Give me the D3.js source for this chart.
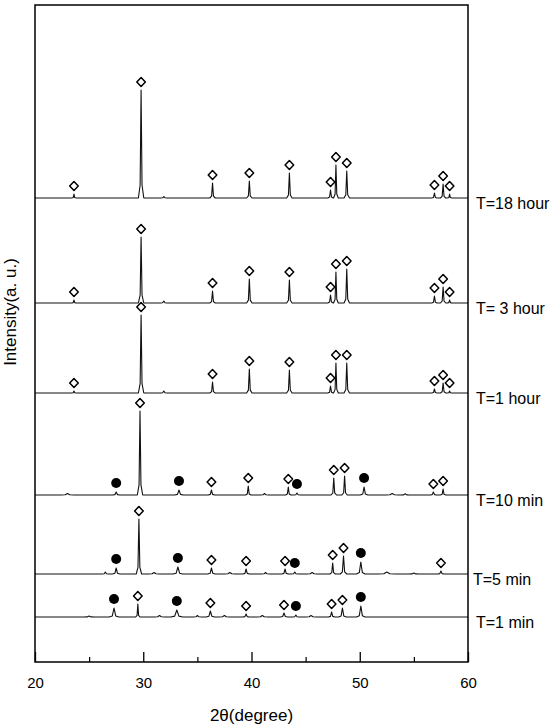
<!DOCTYPE html>
<html>
<head>
<meta charset="utf-8">
<script src="https://cdn.jsdelivr.net/npm/d3@7"></script>
<style>
  body { margin: 0; background: #fff; }
  text { font-family: "Liberation Sans", Arial, sans-serif; fill: #000; }
</style>
</head>
<body>
<div id="chart"></div>
<script>
// sample labels and baseline offsets (a.u.)
const labels = ["T=18 hour", "T= 3 hour", "T=1 hour", "T=10 min", "T=5 min", "T=1 min"];
const offsets = [464, 359, 269, 167, 88, 45];

// peaks: [2theta, height, half base width, marker]
// marker: "d" = open diamond, "c" = filled circle, "" = none
const peaks18h = [
  [23.6, 4, 0.2, "d"], [29.8, 108, 0.25, "d"], [36.4, 15, 0.25, "d"], [39.8, 17, 0.25, "d"],
  [43.5, 25, 0.25, "d"], [47.3, 8, 0.25, "d"], [47.8, 33, 0.22, "d"], [48.8, 27, 0.25, "d"],
  [56.9, 5, 0.25, "d"], [57.7, 14, 0.25, "d"], [58.3, 4, 0.2, "d"], [31.9, 1.5, 0.3, ""]
];
const peaks3h = [
  [23.6, 3, 0.2, "d"], [29.8, 66, 0.25, "d"], [36.4, 12, 0.25, "d"], [39.8, 24, 0.25, "d"],
  [43.5, 23, 0.25, "d"], [47.3, 8, 0.25, "d"], [47.8, 31, 0.22, "d"], [48.8, 34, 0.25, "d"],
  [56.9, 7, 0.25, "d"], [57.7, 16, 0.25, "d"], [58.3, 3, 0.2, "d"], [31.9, 2, 0.3, ""]
];
const peaks1h = [
  [23.6, 2, 0.2, "d"], [29.8, 78, 0.25, "d"], [36.4, 11, 0.25, "d"], [39.8, 24, 0.25, "d"],
  [43.5, 23, 0.25, "d"], [47.3, 7, 0.25, "d"], [47.8, 30, 0.22, "d"], [48.8, 30, 0.25, "d"],
  [56.9, 4, 0.25, "d"], [57.7, 10, 0.25, "d"], [58.3, 2, 0.2, "d"], [31.9, 2, 0.3, ""]
];
const peaks10m = [
  [27.5, 3, 0.35, "c"], [29.7, 84, 0.25, "d"], [33.3, 5, 0.4, "c"], [36.3, 5, 0.3, "d"],
  [39.7, 9, 0.25, "d"], [43.4, 8, 0.25, "d"], [44.2, 2, 0.3, "c"], [47.6, 17, 0.25, "d"],
  [48.6, 19, 0.25, "d"], [50.4, 8, 0.35, "c"], [56.8, 3, 0.3, "d"], [57.7, 6, 0.25, "d"],
  [23.0, 1.5, 0.6, ""], [41.2, 1.5, 0.4, ""], [53.0, 1.5, 0.6, ""], [54.2, 1.2, 0.4, ""]
];
const peaks5m = [
  [26.5, 2, 0.3, ""], [27.5, 6, 0.35, "c"], [29.6, 55, 0.25, "d"], [33.2, 7, 0.45, "c"],
  [36.3, 6, 0.35, "d"], [39.5, 5, 0.3, "d"], [43.1, 5, 0.3, "d"], [44.0, 2, 0.3, "c"],
  [47.5, 11, 0.25, "d"], [48.5, 18, 0.3, "d"], [50.1, 12, 0.4, "c"], [57.5, 3, 0.3, "d"],
  [31.0, 1.5, 0.5, ""], [38.0, 1.5, 0.5, ""], [41.3, 1.5, 0.4, ""], [45.6, 1.5, 0.5, ""],
  [52.5, 2, 0.8, ""], [55.0, 1, 0.5, ""]
];
const peaks1m = [
  [25.0, 1, 0.5, ""], [27.3, 9, 0.45, "c"], [29.5, 13, 0.2, "d"], [33.1, 7, 0.55, "c"],
  [36.2, 6, 0.4, "d"], [39.5, 3, 0.3, "d"], [43.0, 4, 0.35, "d"], [44.1, 2, 0.3, "c"],
  [47.4, 5, 0.3, "d"], [48.4, 9, 0.35, "d"], [50.1, 11, 0.4, "c"],
  [31.5, 1.5, 0.5, ""], [35.0, 1.5, 0.4, ""], [37.5, 1.5, 0.5, ""], [41.0, 1.5, 0.5, ""],
  [45.5, 1.5, 0.5, ""]
];
const allPeaks = [peaks18h, peaks3h, peaks1h, peaks10m, peaks5m, peaks1m];

const majorTicks = [20, 30, 40, 50, 60];
const minorTicks = [25, 35, 45, 55];

const width = 550, height = 728;
const plotL = 35, plotR = 468, plotT = 5, plotB = 662;

const svg = d3.select("#chart").append("svg")
  .attr("width", width)
  .attr("height", height);

const x = d3.scaleLinear().domain([20, 60]).range([plotL, plotR]);
const y = d3.scaleLinear().domain([0, plotB - plotT]).range([plotB, plotT]);

// one peak as a narrow spike with a little flare at the foot
function shape(p, t) {
  const [c, h, b] = p;
  const d = Math.abs(t - c) / b;
  if (d >= 1) return 0;
  if (d <= 0.35) return h - (h - h * 0.12) * (d / 0.35);
  return h * 0.12 * (1 - (d - 0.35) / 0.65);
}

const line = d3.line().x(d => x(d[0])).y(d => y(d[1]));

allPeaks.forEach((pk, i) => {
  const off = offsets[i];
  let xs = [20, 60];
  pk.forEach(p => {
    xs.push(p[0] - p[2], p[0] - p[2] * 0.35, p[0], p[0] + p[2] * 0.35, p[0] + p[2]);
  });
  xs = xs.filter(t => t >= 20 && t <= 60).sort((a, b) => a - b);
  const pts = xs.map(t => [t, off + d3.sum(pk, p => shape(p, t))]);

  svg.append("path")
    .attr("d", line(pts))
    .attr("fill", "none")
    .attr("stroke", "#111")
    .attr("stroke-width", 1.1)
    .attr("stroke-linejoin", "round");

  pk.filter(p => p[3] === "c").forEach(p => {
    svg.append("circle")
      .attr("cx", x(p[0]))
      .attr("cy", y(off + p[1] + 9))
      .attr("r", 5)
      .attr("fill", "#000");
  });
  pk.filter(p => p[3] === "d").forEach(p => {
    svg.append("path")
      .attr("d", "M0,-4.5L4.3,0L0,4.5L-4.3,0Z")
      .attr("transform", `translate(${x(p[0])},${y(off + p[1] + 8)})`)
      .attr("fill", "#fff")
      .attr("stroke", "#000")
      .attr("stroke-width", 1.5)
      .attr("stroke-linejoin", "round");
  });

  svg.append("text")
    .attr("x", i === 4 ? 473 : 476)
    .attr("y", y(off) + 11)
    .attr("font-size", "16px")
    .text(labels[i]);
});

// frame
svg.append("rect")
  .attr("x", plotL).attr("y", plotT)
  .attr("width", plotR - plotL).attr("height", plotB - plotT)
  .attr("fill", "none")
  .attr("stroke", "#000")
  .attr("stroke-width", 1.5);

// bottom axis, ticks pointing in
const ax = svg.append("g")
  .attr("transform", `translate(0,${plotB})`)
  .call(d3.axisBottom(x).tickValues(majorTicks).tickSize(-10).tickPadding(15));
ax.select(".domain").remove();
ax.selectAll("line").attr("stroke-width", 1.3);
ax.selectAll("text").attr("font-size", "15px").attr("font-family", "Liberation Sans, Arial, sans-serif");

const axm = svg.append("g")
  .attr("transform", `translate(0,${plotB})`)
  .call(d3.axisBottom(x).tickValues(minorTicks).tickSize(-5).tickFormat(""));
axm.select(".domain").remove();
axm.selectAll("line").attr("stroke-width", 1.2);

svg.append("text")
  .attr("x", (plotL + plotR) / 2)
  .attr("y", 721)
  .attr("text-anchor", "middle")
  .attr("font-size", "17px")
  .text("2θ(degree)");

svg.append("text")
  .attr("transform", "translate(16,312) rotate(-90)")
  .attr("text-anchor", "middle")
  .attr("font-size", "17px")
  .text("Intensity(a. u.)");
</script>
</body>
</html>
